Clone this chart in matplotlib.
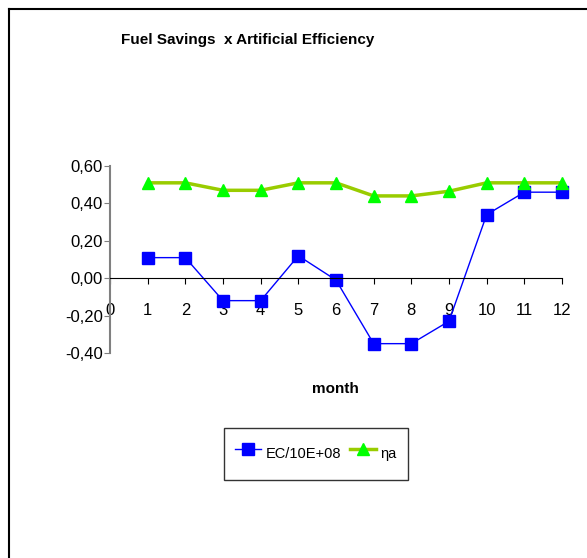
import numpy as np
import matplotlib
matplotlib.use("Agg")
import matplotlib.pyplot as plt
from matplotlib.lines import Line2D

plt.rcParams['font.family'] = ['Liberation Sans', 'DejaVu Sans']

months = [1, 2, 3, 4, 5, 6, 7, 8, 9, 10, 11, 12]
ec = [0.11, 0.11, -0.12, -0.12, 0.12, -0.01, -0.35, -0.35, -0.23, 0.34, 0.46, 0.46]
eta_a = [0.51, 0.51, 0.47, 0.47, 0.51, 0.51, 0.44, 0.44, 0.465, 0.51, 0.51, 0.51]
yticks = [-0.4, -0.2, 0.0, 0.2, 0.4, 0.6]
ytick_labels = ['-0,40', '-0,20', '0,00', '0,20', '0,40', '0,60']

W, H = 587, 558
fig = plt.figure(figsize=(W / 100, H / 100), dpi=100)

# outer frame (top and left edges only visible)
fig.add_artist(Line2D([9 / W, 1], [1 - 9 / H, 1 - 9 / H], color='black', lw=1.5))
fig.add_artist(Line2D([9 / W, 9 / W], [0, 1 - 9 / H], color='black', lw=1.5))

ax = fig.add_axes([110 / W, 1 - 353 / H, 452 / W, 187 / H])
ax.plot(months, ec, color='#0000FF', lw=1, marker='s', ms=8,
        markerfacecolor='#0000FF', markeredgecolor='#0000FF', label='EC/10E+08', clip_on=False)
ax.plot(months, eta_a, color='#99CC00', lw=2.5, marker='^', ms=8,
        markerfacecolor='#00FF00', markeredgecolor='#00FF00', label='ηa', clip_on=False)

ax.set_xlim(0, 12)
ax.set_ylim(-0.4, 0.6)
ax.set_xticks(range(0, 13))
ax.set_yticks(yticks)
ax.set_yticklabels(ytick_labels)

ax.spines['top'].set_visible(False)
ax.spines['right'].set_visible(False)
ax.spines['bottom'].set_position(('data', 0))
ax.spines['bottom'].set_color('black')
ax.spines['left'].set_color('#808080')
ax.spines['left'].set_linewidth(1.5)
ax.tick_params(axis='x', direction='out', length=4, pad=14, labelsize=12, color='black')
ax.tick_params(axis='y', direction='out', length=4, pad=1, labelsize=12, color='#808080')

fig.text(248 / W, 1 - 40 / H, 'Fuel Savings  x Artificial Efficiency', ha='center', va='center',
         fontsize=11, fontweight='bold')
fig.text(335 / W, 1 - 389 / H, 'month', ha='center', va='center', fontsize=11, fontweight='bold')

leg = fig.legend(loc='center', bbox_to_anchor=(316 / W, 1 - 454 / H), ncol=2, frameon=True,
                 fancybox=False, edgecolor='black', fontsize=10.5, handlelength=1.8,
                 handleheight=2.8, columnspacing=0.6, handletextpad=0.3, borderpad=0.75)
leg.get_frame().set_linewidth(1.0)

fig.savefig('out.png', dpi=100)
